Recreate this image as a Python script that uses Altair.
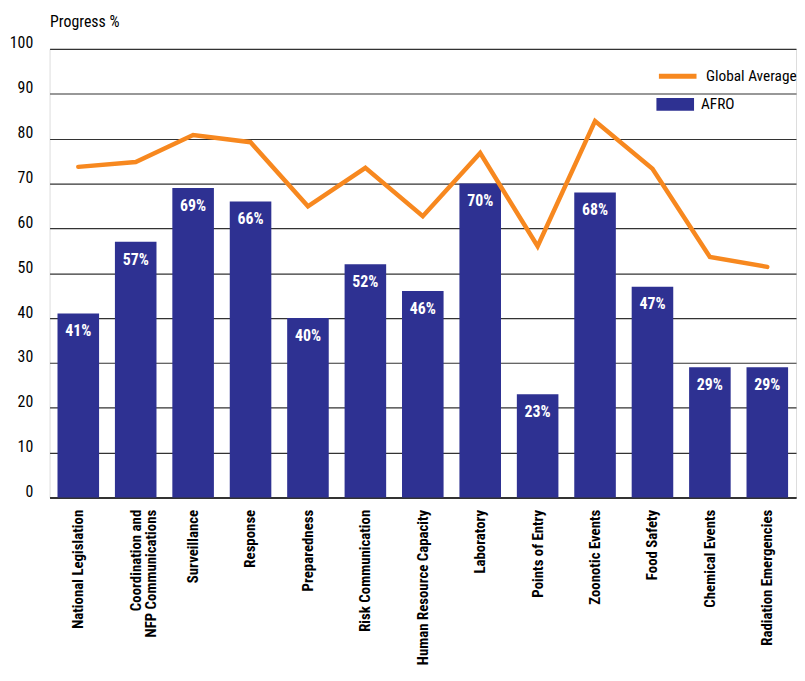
import altair as alt
import pandas as pd

categories = ["National Legislation", "Coordination and NFP Communications", "Surveillance",
              "Response", "Preparedness", "Risk Communication", "Human Resource Capacity",
              "Laboratory", "Points of Entry", "Zoonotic Events", "Food Safety",
              "Chemical Events", "Radiation Emergencies"]
afro = [41, 57, 69, 66, 40, 52, 46, 70, 23, 68, 47, 29, 29]
global_avg = [73.7, 74.8, 80.8, 79.2, 64.9, 73.5, 62.7, 76.8, 56, 83.9, 73.3, 53.6, 51.4]
y_ticks = [0, 10, 20, 30, 40, 50, 60, 70, 80, 90, 100]

FONT = "Roboto Condensed"
BLUE = "#2E3192"
ORANGE = "#F7881F"

df = pd.DataFrame({
    "cat": categories,
    "afro": afro,
    "glob": global_avg,
    "lbl": [f"{v}%" for v in afro],
    "s_bar": ["AFRO"] * len(categories),
    "s_line": ["Global Average"] * len(categories),
})

x_enc = alt.X("cat:N", sort=categories,
              scale=alt.Scale(paddingInner=0.276, paddingOuter=0.138),
              axis=alt.Axis(title=None, labelAngle=-90, labelFont=FONT, labelFontSize=15,
                            labelFontWeight="bold", labelColor="#000", labelPadding=12,
                            labelLimit=300, ticks=False, domain=True, domainColor="#333",
                            domainWidth=2, labelLineHeight=16,
                            labelExpr="datum.value == 'Coordination and NFP Communications' ? ['Coordination and', 'NFP Communications'] : datum.value"))

bars = alt.Chart(df).mark_bar(cornerRadius=0).encode(
    x=x_enc,
    y=alt.Y("afro:Q", scale=alt.Scale(domain=[0, 100], nice=False),
            axis=alt.Axis(values=y_ticks, title="Progress %", titleAngle=0, titleAlign="left",
                          titleAnchor="start", titleX=0, titleY=-28, titleBaseline="middle",
                          titleFont=FONT, titleFontSize=16, titleFontWeight="normal",
                          titleColor="#000", labelFont=FONT, labelFontSize=16, labelColor="#000",
                          labelPadding=17, labelOffset=-6, ticks=False, domain=False, grid=True,
                          gridColor="#333", gridWidth=1.2)),
    fill=alt.Fill("s_bar:N", scale=alt.Scale(domain=["AFRO"], range=[BLUE]),
                  legend=alt.Legend(title=None, orient="none", legendX=613, legendY=37,
                                    symbolType="M-1,-0.34H1V0.34H-1Z", symbolSize=1444,
                                    symbolStrokeWidth=0, labelFont=FONT, labelFontSize=15.5,
                                    labelColor="#000", labelOffset=7)),
)

text = alt.Chart(df).mark_text(baseline="top", dy=10, color="white", font=FONT,
                               fontSize=16, fontWeight="bold").encode(
    x=alt.X("cat:N", sort=categories),
    y=alt.Y("afro:Q"),
    text="lbl:N",
)

line = alt.Chart(df).mark_line(strokeWidth=4.5, strokeCap="round", strokeJoin="miter").encode(
    x=alt.X("cat:N", sort=categories),
    y=alt.Y("glob:Q"),
    stroke=alt.Stroke("s_line:N", scale=alt.Scale(domain=["Global Average"], range=[ORANGE]),
                      legend=alt.Legend(title=None, orient="none", legendX=613, legendY=6,
                                        symbolType="stroke", symbolSize=1444,
                                        symbolStrokeWidth=5, labelFont=FONT, labelFontSize=15.5,
                                        labelColor="#000", labelOffset=7)),
)

chart = alt.layer(bars, text, line).resolve_scale(fill="independent", stroke="independent").properties(
    width=754, height=453,
    autosize=alt.AutoSizeParams(type="none"),
    padding={"left": 42, "top": 38, "right": 1, "bottom": 172},
).configure_view(stroke=None).configure(background="white")

chart.save("out.html", embed_options={"renderer": "svg", "actions": False})
